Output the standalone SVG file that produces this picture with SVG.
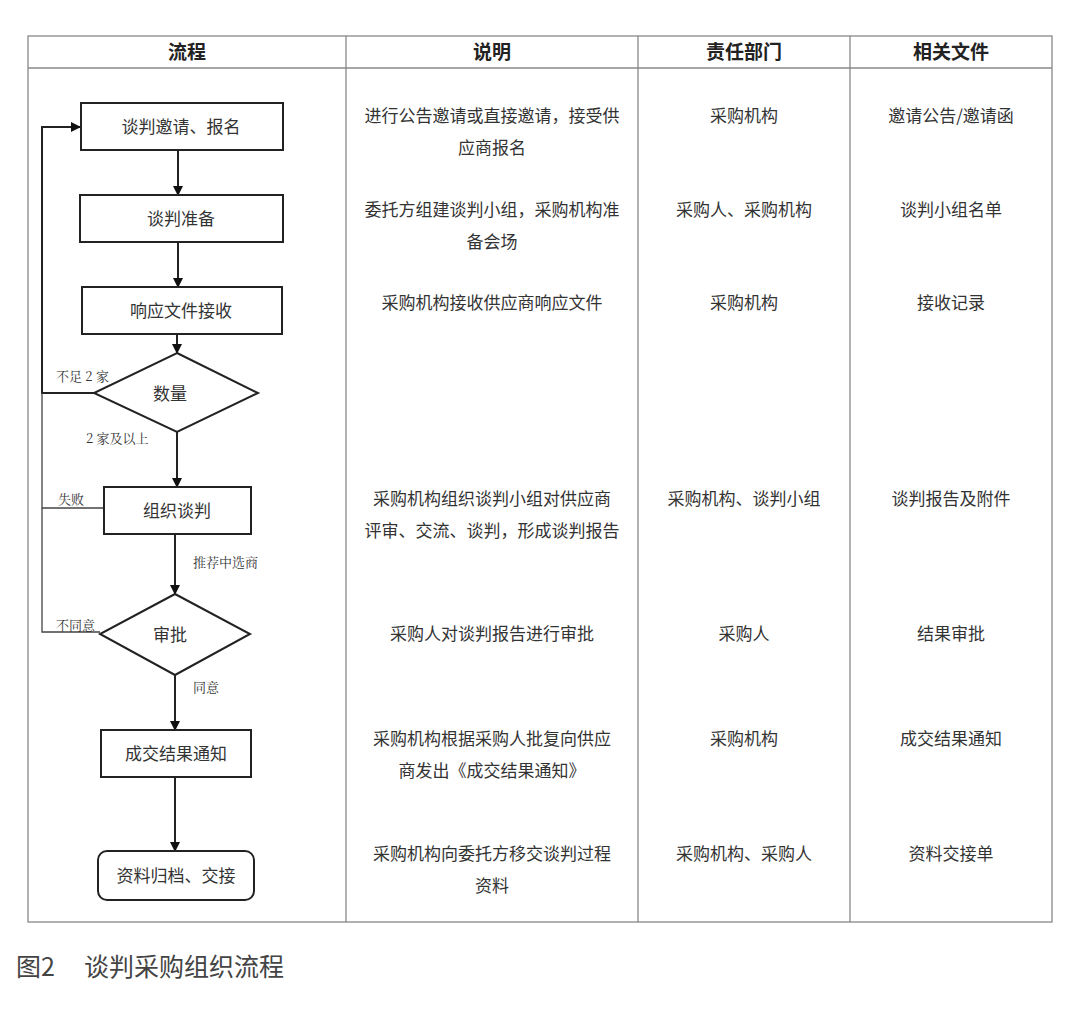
<svg xmlns="http://www.w3.org/2000/svg" width="1080" height="1013" viewBox="0 0 1080 1013">
<style>
text{font-family:"Noto Sans CJK SC","Noto Sans",sans-serif;fill:#333;font-size:17px}
.h{font-weight:bold;font-size:19px;fill:#222;text-anchor:middle}
.c{text-anchor:middle}
.s{font-family:"Noto Serif CJK SC","Noto Sans CJK SC",serif;font-size:13px;fill:#333}
.n{fill:#fff;stroke:#222;stroke-width:2}
.l{fill:none;stroke:#222;stroke-width:2}
.t{fill:none;stroke:#888;stroke-width:1.3}
</style>
<defs><marker id="a" markerWidth="10" markerHeight="10" refX="9" refY="5" orient="auto" markerUnits="userSpaceOnUse"><path d="M0,0L10,5L0,10z" fill="#111"/></marker></defs>
<rect width="1080" height="1013" fill="#fff"/>
<g id="table">
<rect x="28" y="36" width="1024" height="886" class="t"/>
<line x1="28" y1="68" x2="1052" y2="68" class="t"/>
<line x1="346" y1="36" x2="346" y2="922" class="t"/>
<line x1="638" y1="36" x2="638" y2="922" class="t"/>
<line x1="850" y1="36" x2="850" y2="922" class="t"/>
<text x="187" y="59" class="h">流程</text>
<text x="492" y="59" class="h">说明</text>
<text x="744" y="59" class="h">责任部门</text>
<text x="951" y="59" class="h">相关文件</text>
<text x="492" y="122" class="c">进行公告邀请或直接邀请，接受供</text>
<text x="492" y="154" class="c">应商报名</text>
<text x="744" y="122" class="c">采购机构</text>
<text x="951" y="122" class="c">邀请公告/邀请函</text>
<text x="492" y="216" class="c">委托方组建谈判小组，采购机构准</text>
<text x="492" y="248" class="c">备会场</text>
<text x="744" y="216" class="c">采购人、采购机构</text>
<text x="951" y="216" class="c">谈判小组名单</text>
<text x="492" y="309" class="c">采购机构接收供应商响应文件</text>
<text x="744" y="309" class="c">采购机构</text>
<text x="951" y="309" class="c">接收记录</text>
<text x="492" y="505" class="c">采购机构组织谈判小组对供应商</text>
<text x="492" y="537" class="c">评审、交流、谈判，形成谈判报告</text>
<text x="744" y="505" class="c">采购机构、谈判小组</text>
<text x="951" y="505" class="c">谈判报告及附件</text>
<text x="492" y="640" class="c">采购人对谈判报告进行审批</text>
<text x="744" y="640" class="c">采购人</text>
<text x="951" y="640" class="c">结果审批</text>
<text x="492" y="745" class="c">采购机构根据采购人批复向供应</text>
<text x="492" y="777" class="c">商发出《成交结果通知》</text>
<text x="744" y="745" class="c">采购机构</text>
<text x="951" y="745" class="c">成交结果通知</text>
<text x="492" y="860" class="c">采购机构向委托方移交谈判过程</text>
<text x="492" y="892" class="c">资料</text>
<text x="744" y="860" class="c">采购机构、采购人</text>
<text x="951" y="860" class="c">资料交接单</text>
</g>
<g id="connectors">
<line x1="178" y1="150" x2="178" y2="195" class="l" marker-end="url(#a)"/>
<line x1="178" y1="242" x2="178" y2="287" class="l" marker-end="url(#a)"/>
<line x1="177" y1="334" x2="177" y2="353" class="l" marker-end="url(#a)"/>
<line x1="177" y1="432" x2="177" y2="487" class="l" marker-end="url(#a)"/>
<line x1="175" y1="534" x2="175" y2="594" class="l" marker-end="url(#a)"/>
<line x1="175" y1="675" x2="175" y2="730" class="l" marker-end="url(#a)"/>
<line x1="175" y1="777" x2="175" y2="851" class="l" marker-end="url(#a)"/>
<polyline points="94,393 42,393 42,127 80,127" class="l" stroke-width="1.3" marker-end="url(#a)"/>
<polyline points="104,508 42,508 42,393" fill="none" stroke="#444" stroke-width="1.3"/>
<polyline points="100,632 42,632 42,508" fill="none" stroke="#444" stroke-width="1.3"/>
<text x="56" y="381" class="s">不足 2 家</text>
<text x="86" y="443" class="s">2 家及以上</text>
<text x="58" y="504" class="s">失败</text>
<text x="56" y="630" class="s">不同意</text>
<text x="193" y="567" class="s">推荐中选商</text>
<text x="193" y="692" class="s">同意</text>
</g>
<g id="n1"><rect x="81" y="103" width="202" height="47" class="n"/><text x="181" y="133" class="c">谈判邀请、报名</text></g>
<g id="n2"><rect x="80" y="195" width="203" height="47" class="n"/><text x="181" y="225" class="c">谈判准备</text></g>
<g id="n3"><rect x="82" y="287" width="200" height="47" class="n"/><text x="181" y="317" class="c">响应文件接收</text></g>
<g id="n4"><polygon points="177,353 258,393 177,432 94,393" class="n"/><text x="170" y="400" class="c">数量</text></g>
<g id="n5"><rect x="104" y="487" width="147" height="47" class="n"/><text x="177" y="517" class="c">组织谈判</text></g>
<g id="n6"><polygon points="175,594 250,634 175,675 100,634" class="n"/><text x="170" y="641" class="c">审批</text></g>
<g id="n7"><rect x="101" y="730" width="150" height="47" class="n"/><text x="176" y="760" class="c">成交结果通知</text></g>
<g id="n8"><rect x="98" y="851" width="156" height="49" rx="9" class="n"/><text x="176" y="882" class="c">资料归档、交接</text></g>
<text x="16" y="976" style="font-size:25px;fill:#444">图2<tspan x="84">谈判采购组织流程</tspan></text>
</svg>
